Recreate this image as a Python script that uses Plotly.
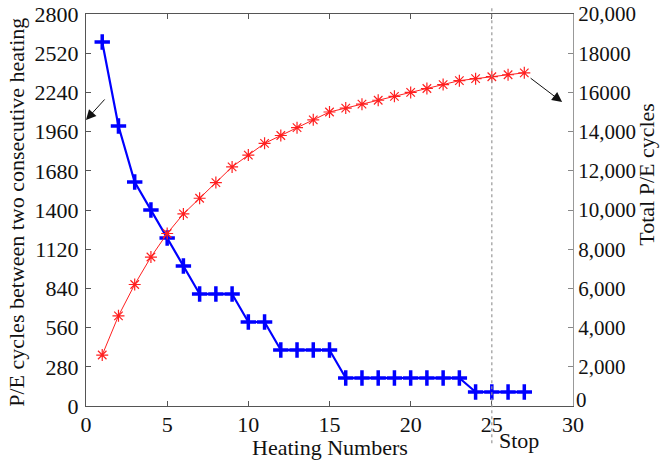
import plotly.graph_objects as go

# Heating index (x axis)
heating_numbers = [1, 2, 3, 4, 5, 6, 7, 8, 9, 10, 11, 12, 13, 14,
                   15, 16, 17, 18, 19, 20, 21, 22, 23, 24, 25, 26, 27]

# P/E cycles between two consecutive heating events (left axis)
cycles_between = [2600, 2000, 1600, 1400, 1200, 1000, 800, 800, 800, 600, 600,
                  400, 400, 400, 400, 200, 200, 200, 200, 200, 200, 200, 200,
                  100, 100, 100, 100]

# Total P/E cycles (right axis)
total_cycles = [2600, 4600, 6200, 7600, 8800, 9800, 10600, 11400, 12200, 12800,
                13400, 13800, 14200, 14600, 15000, 15200, 15400, 15600, 15800,
                16000, 16200, 16400, 16600, 16700, 16800, 16900, 17000]

# Axis ticks
x_ticks = [0, 5, 10, 15, 20, 25, 30]
left_ticks = [0, 280, 560, 840, 1120, 1400, 1680, 1960, 2240, 2520, 2800]
right_tick_vals = [0, 2000, 4000, 6000, 8000, 10000, 12000, 14000, 16000, 18000, 20000]
right_tick_text = ["0", "2,000", "4,000", "6,000", "8,000", "10,000", "12,000",
                   "14,000", "16000", "18000", "20,000"]

stop_at = 25

FONT = "Liberation Serif, Times New Roman, serif"
FS = 22

fig = go.Figure()

fig.add_trace(go.Scatter(
    x=heating_numbers, y=total_cycles, yaxis="y2", mode="lines+markers",
    line=dict(color="#ff2020", width=1),
    marker=dict(symbol="asterisk-open", size=10, line=dict(color="#ff2020", width=1.2)),
    showlegend=False,
))

fig.add_trace(go.Scatter(
    x=heating_numbers, y=cycles_between, mode="lines+markers",
    line=dict(color="#0000ff", width=2.2),
    marker=dict(symbol="cross-thin-open", size=11, line=dict(color="#0000ff", width=3.5)),
    showlegend=False,
))

# Dotted "Stop" marker line
fig.add_shape(type="line", xref="x", yref="paper", x0=stop_at, x1=stop_at,
              y0=-0.095, y1=1.017, line=dict(color="#999999", width=1.2, dash="dot"))

fig.add_annotation(x=stop_at, y=-0.088, xref="x", yref="paper", text="Stop",
                   showarrow=False, xanchor="left", yanchor="middle", xshift=5,
                   font=dict(family=FONT, size=FS, color="#111"))

# Arrows pointing at the axes each curve belongs to
fig.add_annotation(x=0, y=2043, xref="x", yref="y", ax=20, ay=-22, text="",
                   showarrow=True, arrowhead=2, arrowsize=2, arrowwidth=1,
                   arrowcolor="#111")
fig.add_annotation(x=29.33, y=2171, xref="x", yref="y", ax=-33, ay=-25, text="",
                   showarrow=True, arrowhead=2, arrowsize=2, arrowwidth=1,
                   arrowcolor="#111")

# Axis titles
fig.add_annotation(x=0.5, y=-0.107, xref="paper", yref="paper",
                   text="Heating Numbers", showarrow=False,
                   xanchor="center", yanchor="middle",
                   font=dict(family=FONT, size=FS, color="#111"))
fig.add_annotation(x=-0.142, y=0.495, xref="paper", yref="paper",
                   text="P/E cycles between two consecutive heating", textangle=-90,
                   showarrow=False, xanchor="center", yanchor="middle",
                   font=dict(family=FONT, size=FS, color="#111"))
fig.add_annotation(x=1.152, y=0.59, xref="paper", yref="paper",
                   text="Total P/E cycles", textangle=-90,
                   showarrow=False, xanchor="center", yanchor="middle",
                   font=dict(family=FONT, size=FS, color="#111"))

# Bottom label of the right axis sits slightly raised above the x tick labels
fig.add_annotation(x=1, y=right_tick_vals[0], xref="paper", yref="y2",
                   text=right_tick_text[0], showarrow=False,
                   xanchor="left", yanchor="bottom", xshift=1, yshift=-8,
                   font=dict(family=FONT, size=21, color="#111"))
right_tick_shown = [""] + right_tick_text[1:]

fig.update_layout(
    width=660, height=462,
    margin=dict(l=86, r=87, t=14, b=56, autoexpand=False),
    paper_bgcolor="white", plot_bgcolor="white",
    font=dict(family=FONT, size=FS, color="#111"),
    xaxis=dict(
        range=[0, 30], tickvals=x_ticks, ticks="inside", ticklen=5,
        tickcolor="#555", showline=True, linecolor="#555", linewidth=1.2,
        mirror="ticks", showgrid=False, zeroline=False, automargin=False,
        ticklabelstandoff=-2,
    ),
    yaxis=dict(
        range=[0, 2800], tickvals=left_ticks, ticks="inside", ticklen=5,
        tickcolor="#555", showline=True, linecolor="#555", linewidth=1.2,
        showgrid=False, zeroline=False, ticklabelstandoff=2, automargin=False,
    ),
    yaxis2=dict(
        range=[0, 20000], overlaying="y", side="right", tickvals=right_tick_vals,
        ticktext=right_tick_shown, ticks="inside", ticklen=5, tickcolor="#888",
        showline=True, linecolor="#999", linewidth=1.2, showgrid=False,
        zeroline=False, ticklabelstandoff=0, automargin=False,
        tickfont=dict(size=21),
    ),
)

fig.write_html("out.html")
